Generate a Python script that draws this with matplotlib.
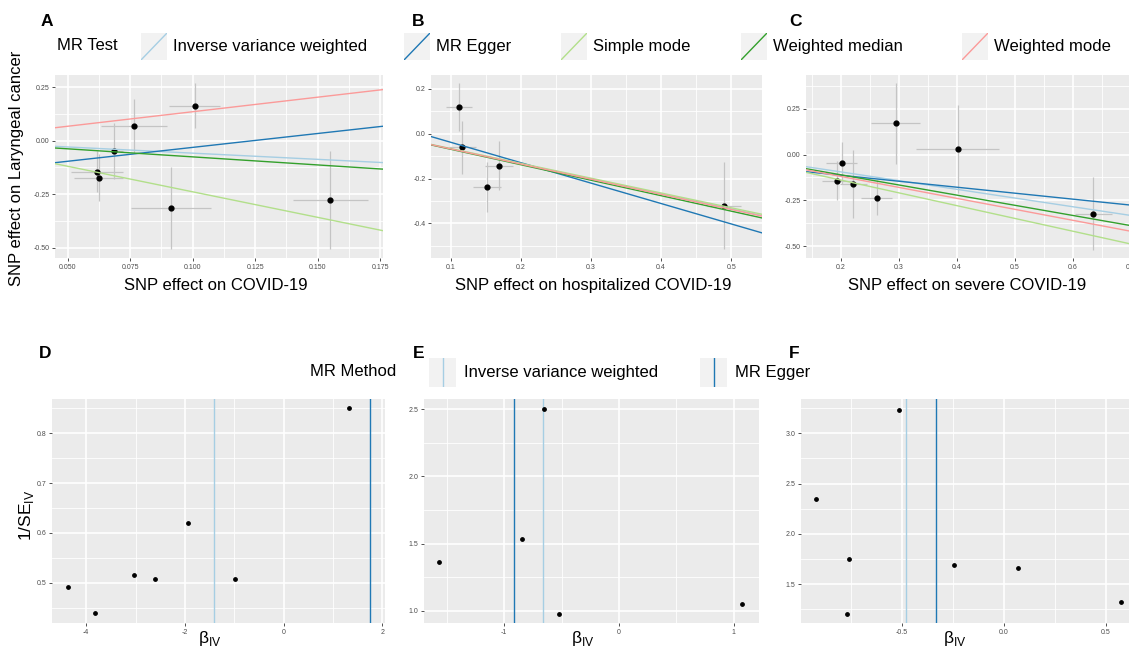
import matplotlib.pyplot as plt
from matplotlib.ticker import MultipleLocator

plt.rcParams['font.family'] = ['Liberation Sans', 'DejaVu Sans']
plt.rcParams['mathtext.fontset'] = 'custom'
plt.rcParams['mathtext.rm'] = 'Liberation Sans'

W, H = 1129, 650

methods = ['Inverse variance weighted', 'MR Egger', 'Simple mode',
           'Weighted median', 'Weighted mode']
method_colors = ['#A6CEE3', '#1F78B4', '#B2DF8A', '#33A02C', '#FB9A99']

# ---- scatter panels (A, B, C) ----
a_x = [0.0617, 0.0624, 0.0687, 0.0764, 0.1008, 0.0915, 0.1551]
a_y = [-0.144, -0.174, -0.047, 0.068, 0.164, -0.315, -0.276]
a_xse = [0.0105, 0.0099, 0.0035, 0.0132, 0.0101, 0.016, 0.015]
a_yse = [0.098, 0.11, 0.13, 0.126, 0.106, 0.19, 0.23]
a_slope = [-0.58, 1.30, -2.39, -0.754, 1.36]
a_icpt = [0.0, -0.161, 0.0, 0.0, 0.0]

b_x = [0.112, 0.1165, 0.152, 0.169, 0.490]
b_y = [0.12, -0.061, -0.237, -0.142, -0.320]
b_xse = [0.019, 0.019, 0.02, 0.02, 0.024]
b_yse = [0.107, 0.118, 0.111, 0.111, 0.196]
b_slope = [-0.67, -0.91, -0.66, -0.69, -0.675]
b_icpt = [0.0, 0.053, 0.0, 0.0, 0.0]

c_x = [0.1925, 0.201, 0.221, 0.2616, 0.294, 0.401, 0.6345]
c_y = [-0.142, -0.046, -0.162, -0.236, 0.169, 0.030, -0.321]
c_xse = [0.026, 0.027, 0.023, 0.027, 0.042, 0.072, 0.032]
c_yse = [0.108, 0.115, 0.186, 0.095, 0.222, 0.237, 0.2]
c_slope = [-0.474, -0.325, -0.696, -0.553, -0.597]
c_icpt = [0.0, -0.048, 0.0, 0.0, 0.0]

# ---- funnel panels (D, E, F) ----
d_beta = [-4.37, -3.83, -3.04, -2.60, -1.93, -0.995, 1.33]
d_inv_se = [0.491, 0.439, 0.516, 0.508, 0.62, 0.508, 0.85]
d_lines = [-1.41, 1.76]

e_beta = [-1.569, -0.844, -0.651, -0.518, 1.075]
e_inv_se = [1.36, 1.533, 2.5, 0.978, 1.05]
e_lines = [-0.665, -0.91]

f_beta = [-0.921, -0.758, -0.768, -0.515, -0.244, 0.0685, 0.572]
f_inv_se = [2.344, 1.748, 1.202, 3.235, 1.685, 1.662, 1.321]
f_lines = [-0.482, -0.334]

fig = plt.figure(figsize=(W / 100, H / 100), dpi=100)


def px_axes(left, top, right, bottom, **kw):
    return fig.add_axes([left / W, 1 - bottom / H, (right - left) / W, (bottom - top) / H], **kw)


def gg_style(ax, xticks, xlabels, yticks, ylabels, xminor, yminor, xlim, ylim):
    ax.set_facecolor('#EBEBEB')
    for s in ax.spines.values():
        s.set_visible(False)
    ax.set_xticks(xticks, xlabels)
    ax.set_yticks(yticks, ylabels)
    ax.xaxis.set_minor_locator(MultipleLocator(xminor))
    ax.yaxis.set_minor_locator(MultipleLocator(yminor))
    ax.grid(True, which='major', color='white', lw=1.2)
    ax.grid(True, which='minor', color='white', lw=0.6)
    ax.set_axisbelow(True)
    ax.tick_params(which='major', length=2.5, width=0.6, color='#333333',
                   labelsize=5, labelcolor='#4D4D4D', pad=1.5)
    ax.tick_params(which='minor', length=0)
    ax.set_xlim(*xlim)
    ax.set_ylim(*ylim)


def scatter_panel(ax, x, y, xse, yse, slopes, icpts):
    ax.errorbar(x, y, yerr=yse, fmt='none', ecolor='#C4C4C4', elinewidth=0.9, zorder=2)
    ax.errorbar(x, y, xerr=xse, fmt='none', ecolor='#C4C4C4', elinewidth=0.9, zorder=2)
    ax.scatter(x, y, s=12, color='black', zorder=3)
    for s, b, c in zip(slopes, icpts, method_colors):
        ax.axline((0, b), slope=s, color=c, lw=1.0, zorder=4)


def funnel_panel(ax, beta, inv_se, lines):
    ax.scatter(beta, inv_se, s=6, color='black', zorder=3)
    ax.axvline(lines[0], color=method_colors[0], lw=1.0, zorder=2)
    ax.axvline(lines[1], color=method_colors[1], lw=1.0, zorder=2)


# A
axA = px_axes(55, 75, 383, 258)
scatter_panel(axA, a_x, a_y, a_xse, a_yse, a_slope, a_icpt)
gg_style(axA, [0.05, 0.075, 0.1, 0.125, 0.15, 0.175],
         ['0.050', '0.075', '0.100', '0.125', '0.150', '0.175'],
         [-0.5, -0.25, 0, 0.25], ['-0.50', '-0.25', '0.00', '0.25'],
         0.0125, 0.125, (0.0449, 0.1762), (-0.549, 0.308))

# B
axB = px_axes(431, 75, 762, 258)
scatter_panel(axB, b_x, b_y, b_xse, b_yse, b_slope, b_icpt)
gg_style(axB, [0.1, 0.2, 0.3, 0.4, 0.5], ['0.1', '0.2', '0.3', '0.4', '0.5'],
         [-0.4, -0.2, 0, 0.2], ['-0.4', '-0.2', '0.0', '0.2'],
         0.05, 0.1, (0.0719, 0.544), (-0.554, 0.262))

# C (right edge runs past the figure, as in the original crop)
axC = px_axes(806, 75, 1134, 258)
scatter_panel(axC, c_x, c_y, c_xse, c_yse, c_slope, c_icpt)
gg_style(axC, [0.2, 0.3, 0.4, 0.5, 0.6, 0.7], ['0.2', '0.3', '0.4', '0.5', '0.6', '0.7'],
         [-0.5, -0.25, 0, 0.25], ['-0.50', '-0.25', '0.00', '0.25'],
         0.05, 0.125, (0.1396, 0.705), (-0.563, 0.4325))

# D
axD = px_axes(52, 399, 385, 623)
funnel_panel(axD, d_beta, d_inv_se, d_lines)
gg_style(axD, [-4, -2, 0, 2], ['-4', '-2', '0', '2'],
         [0.5, 0.6, 0.7, 0.8], ['0.5', '0.6', '0.7', '0.8'],
         1, 0.05, (-4.695, 2.054), (0.419, 0.869))

# E
axE = px_axes(424, 399, 759, 623)
funnel_panel(axE, e_beta, e_inv_se, e_lines)
gg_style(axE, [-1, 0, 1], ['-1', '0', '1'],
         [1.0, 1.5, 2.0, 2.5], ['1.0', '1.5', '2.0', '2.5'],
         0.5, 0.25, (-1.698, 1.22), (0.908, 2.577))

# F
axF = px_axes(801, 399, 1130, 623)
funnel_panel(axF, f_beta, f_inv_se, f_lines)
gg_style(axF, [-0.5, 0.0, 0.5], ['-0.5', '0.0', '0.5'],
         [1.5, 2.0, 2.5, 3.0], ['1.5', '2.0', '2.5', '3.0'],
         0.25, 0.25, (-0.994, 0.617), (1.113, 3.341))


def ftext(x, y, s, **kw):
    fig.text(x / W, 1 - y / H, s, **kw)


# panel letters
for letter, (x, y) in zip('ABCDEF', [(47, 21), (418, 21), (795, 21),
                                     (45, 354), (419, 354), (794, 354)]):
    ftext(x, y, letter, fontsize=12.5, fontweight='bold', ha='center', va='center')

# axis titles
ftext(17, 168, 'SNP effect on Laryngeal cancer', fontsize=12, rotation=90,
      ha='center', va='center')
ftext(216, 285, 'SNP effect on COVID-19', fontsize=12, ha='center', va='center')
ftext(593, 286, 'SNP effect on hospitalized COVID-19', fontsize=12, ha='center', va='center')
ftext(967, 286, 'SNP effect on severe COVID-19', fontsize=12, ha='center', va='center')
ftext(27, 515, '1/SE$_{\\rm IV}$', fontsize=12.5, rotation=90, ha='center', va='center')
for x in (210, 583, 955):
    ftext(x, 639, '\u03b2$_{\\rm IV}$', fontsize=12.5, ha='center', va='center')

# legend: MR Test
ftext(57, 46, 'MR Test', fontsize=12, ha='left', va='center')
key_x = [141, 404, 561, 741, 962]
for kx, m, c in zip(key_x, methods, method_colors):
    k = px_axes(kx, 33, kx + 26, 60)
    k.set_facecolor('#F2F2F2')
    k.plot([0, 1], [0, 1], color=c, lw=1.0, transform=k.transAxes)
    k.set_xticks([])
    k.set_yticks([])
    for s in k.spines.values():
        s.set_visible(False)
    ftext(kx + 32, 46, m, fontsize=12, ha='left', va='center')

# legend: MR Method
ftext(310, 372, 'MR Method', fontsize=12, ha='left', va='center')
for kx, m, c in zip([429, 700], methods[:2], method_colors[:2]):
    k = px_axes(kx, 358, kx + 27, 387)
    k.set_facecolor('#F2F2F2')
    k.plot([0.5, 0.5], [0, 1], color=c, lw=1.0, transform=k.transAxes)
    k.set_xticks([])
    k.set_yticks([])
    for s in k.spines.values():
        s.set_visible(False)
    ftext(kx + 35, 372, m, fontsize=12, ha='left', va='center')

plt.savefig('out.png', dpi=100)
